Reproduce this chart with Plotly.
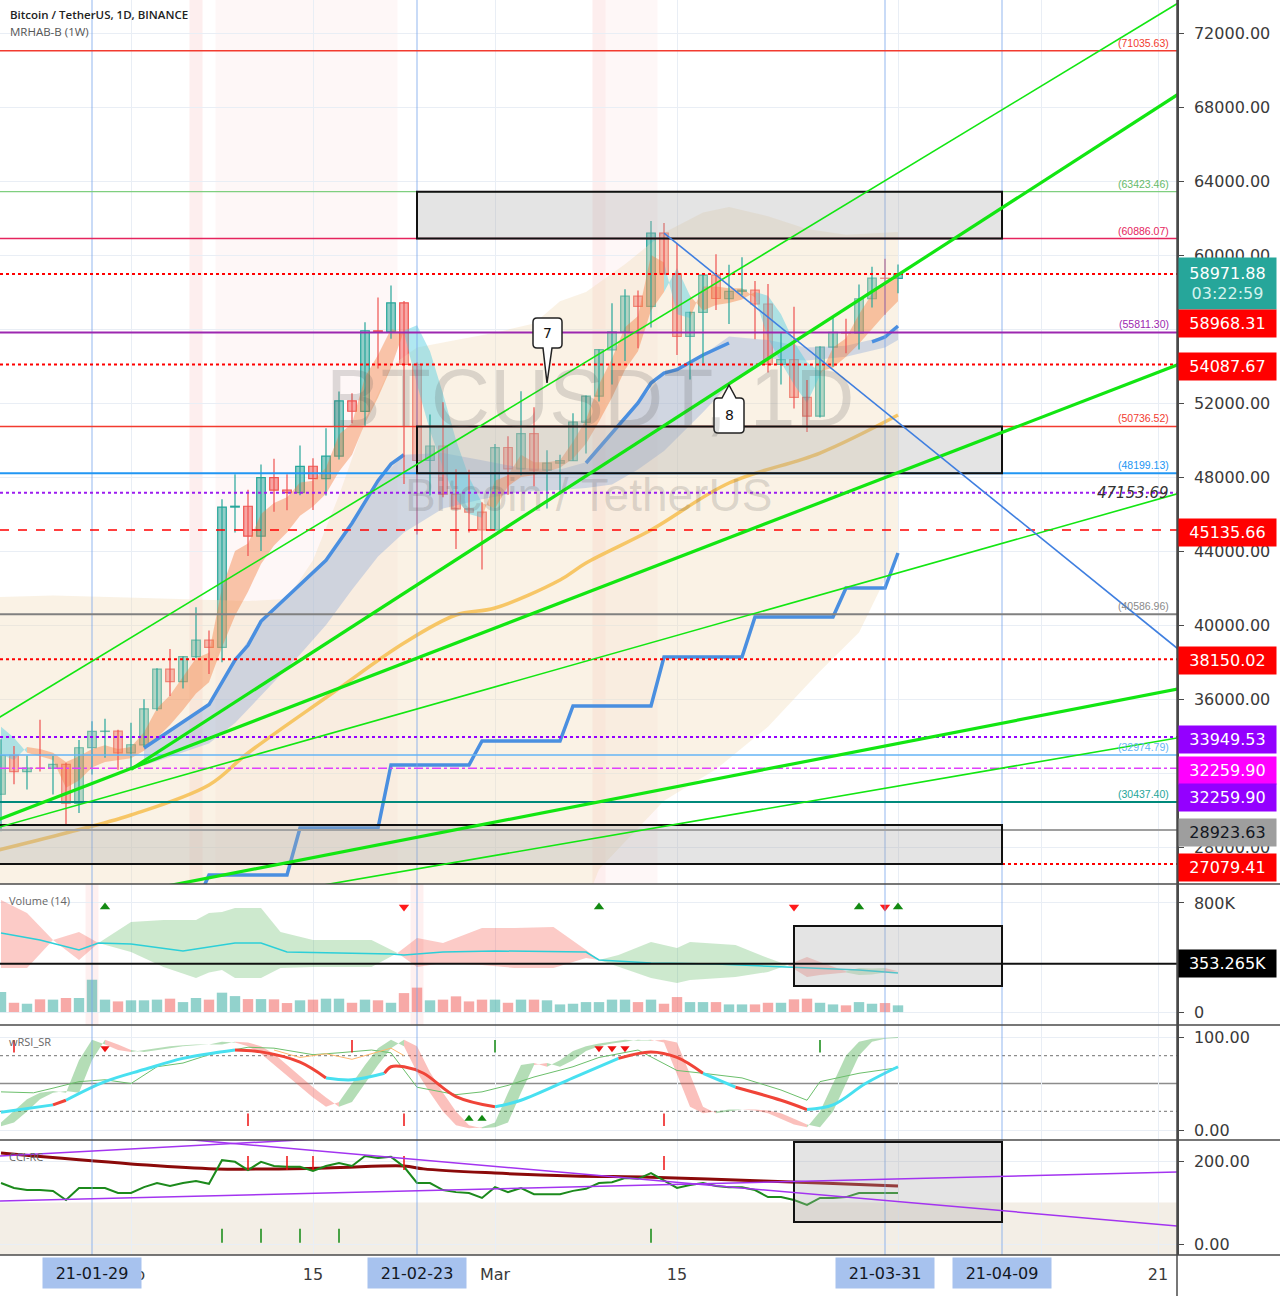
import plotly.graph_objects as go
import pandas as pd

W, H = 1280, 1296

# ================= DATA =================
dates = [d.strftime("%Y-%m-%d") for d in pd.date_range("2021-01-22", "2021-04-01", freq="D")]
opens = [30852, 32950, 32078, 32259, 32257, 32464, 30362, 33368, 34246, 34263,
         33093, 33517, 35472, 37620, 36936, 38289, 39181, 38795, 46374, 46420,
         44807, 47968, 47298, 47156, 48580, 47911, 49133, 52117, 51552, 55906,
         55841, 57412, 54087, 48891, 49676, 47073, 46276, 46103, 45134, 49595,
         48436, 50349, 48374, 48746, 48882, 50959, 52375, 54874, 55851, 57773,
         57221, 61188, 58976, 55605, 56900, 58912, 57641, 58030, 58100, 57351,
         54083, 54342, 52303, 51293, 55025, 55817, 55781, 57635, 58746, 58739]
highs = [33827, 33456, 32944, 34881, 32922, 32557, 33784, 34800, 34933, 34342,
         34717, 35984, 37662, 38708, 38310, 40955, 39700, 46794, 48142, 47310,
         48678, 48985, 48150, 49707, 49010, 50638, 52618, 52530, 56368, 57700,
         58353, 57508, 54183, 51374, 52041, 48424, 48394, 46638, 49790, 50200,
         52640, 51773, 49448, 49200, 51450, 52402, 54895, 57387, 58150, 58081,
         61844, 61724, 60633, 56938, 58974, 60040, 59468, 59880, 58589, 58430,
         55830, 57200, 53237, 55073, 56700, 56559, 58400, 59368, 59800, 59490]
lows = [28850, 31390, 31106, 32087, 30837, 29241, 29842, 31915, 32825, 32172,
        32296, 33418, 35362, 36161, 36570, 38215, 37351, 37988, 45000, 43727,
        43994, 46125, 46202, 47014, 46222, 47003, 48947, 50901, 50710, 53863,
        55478, 47622, 44892, 47003, 46900, 44106, 45000, 43000, 45115, 47047,
        48100, 47500, 46300, 47070, 48882, 49274, 52077, 53005, 54269, 54962,
        56078, 58966, 54600, 53271, 54123, 57023, 56270, 57820, 55450, 53650,
        53000, 51700, 50427, 51214, 53966, 54691, 54891, 57166, 56769, 57935]
closes = [32945, 32078, 32260, 32254, 32468, 30366, 33365, 34252, 34263, 33093,
          33526, 35466, 37619, 36937, 38290, 39187, 38796, 46375, 46420, 44808,
          47970, 47288, 47154, 48578, 47911, 49133, 52120, 51553, 55906, 55841,
          57409, 54088, 48891, 49676, 47074, 46277, 46106, 45136, 49587, 48441,
          50349, 48374, 48752, 48882, 50972, 52375, 54885, 55852, 57773, 57222,
          61188, 58968, 55605, 56901, 58913, 57648, 58030, 58102, 57352, 54083,
          54341, 52304, 51294, 55026, 55817, 55778, 57635, 58747, 58741, 58972]
volume_k = [147, 68, 61, 93, 91, 103, 103, 237, 91, 78,
            86, 86, 91, 98, 73, 103, 91, 142, 117, 95,
            95, 93, 66, 86, 91, 98, 98, 68, 91, 86,
            68, 139, 179, 86, 91, 115, 78, 91, 91, 68,
            91, 91, 86, 56, 61, 73, 73, 91, 91, 73,
            91, 61, 110, 73, 73, 73, 56, 56, 56, 68,
            68, 93, 98, 68, 56, 49, 73, 61, 66, 49]

# fast / slow ribbon (orange when fast above slow, cyan otherwise)
ribbon_fast = [33000, 32700, 33400, 33300, 33100, 32600, 32900, 33300, 33500, 33300,
               33400, 34200, 35500, 36200, 37200, 38200, 38500, 42000, 44000, 44400,
               46000, 46600, 46900, 47700, 47800, 48500, 50300, 50900, 53400, 54600,
               56000, 55800, 53000, 50500, 48500, 46800, 46000, 45800, 47800, 48100,
               49200, 48800, 48800, 48900, 49900, 51100, 53000, 54400, 56100, 56700,
               60000, 59600, 56800, 56600, 58300, 58300, 58200, 58200, 57700, 55500,
               54200, 53000, 52000, 53500, 55000, 55500, 56800, 57900, 58500, 58900]
ribbon_slow = [34500, 33900, 33100, 32900, 32700, 31200, 31600, 32300, 32600, 32700,
               32800, 33200, 33900, 34600, 35400, 36300, 36900, 38800, 40500, 41800,
               43300, 44300, 45000, 45900, 46400, 47100, 48300, 49200, 50900, 52300,
               53900, 55900, 56200, 54800, 52500, 50000, 48000, 46600, 46300, 47500,
               48000, 48100, 48300, 48500, 49000, 49800, 51000, 52300, 53800, 54800,
               57000, 58000, 59300, 57800, 57000, 57300, 57400, 57600, 58000, 57800,
               56800, 55300, 54200, 53700, 53900, 54500, 55200, 56000, 56800, 57500]

# beige MRHAB cloud
cloud_top_dates = ["2021-01-21", "2021-01-26", "2021-01-31", "2021-02-05", "2021-02-10", "2021-02-13",
                   "2021-02-15", "2021-02-17", "2021-02-19", "2021-02-21", "2021-02-23", "2021-02-26",
                   "2021-03-01", "2021-03-04", "2021-03-06", "2021-03-08", "2021-03-11", "2021-03-14",
                   "2021-03-17", "2021-03-19", "2021-03-22", "2021-03-25", "2021-03-28", "2021-04-01"]
cloud_top = [41500, 41600, 41500, 41400, 41300, 41400, 43500, 47000, 51000, 54000, 55000, 55400,
             55800, 56300, 57500, 58000, 59500, 61200, 62300, 62600, 62100, 61400, 61100, 61240]
cloud_bot_dates = ["2021-01-21", "2021-03-08", "2021-03-09", "2021-03-14", "2021-03-18",
                   "2021-03-22", "2021-03-26", "2021-03-29", "2021-04-01"]
cloud_bot = [25000, 25000, 26800, 30500, 32200, 34500, 37500, 39600, 43900]

# blue band + blue MA
band_dates = ["2021-02-02", "2021-02-04", "2021-02-07", "2021-02-09", "2021-02-11", "2021-02-14",
              "2021-02-16", "2021-02-18", "2021-02-20", "2021-02-22", "2021-02-25", "2021-02-28",
              "2021-03-03", "2021-03-06", "2021-03-08", "2021-03-10", "2021-03-12", "2021-03-14",
              "2021-03-17", "2021-03-19", "2021-03-22", "2021-03-25", "2021-03-28", "2021-03-31", "2021-04-01"]
band_upper = [33350, 34300, 35700, 38100, 40200, 42200, 43500, 45500, 47800, 49200, 49300, 48900,
              48500, 48400, 48800, 50400, 52000, 53600, 54600, 55600, 55400, 55000, 55100, 55600, 56200]
band_lower = [32400, 32900, 33600, 34700, 36200, 38400, 40000, 41900, 43700, 45000, 46300, 46800,
              47200, 47300, 47400, 47600, 48400, 49400, 51500, 53000, 54400, 54300, 54500, 55000, 55400]
blue1_dates = ["2021-02-02", "2021-02-04", "2021-02-07", "2021-02-09", "2021-02-10", "2021-02-11",
               "2021-02-14", "2021-02-16", "2021-02-18", "2021-02-20", "2021-02-21", "2021-02-22"]
blue1 = [33350, 34300, 35700, 38100, 38900, 40200, 42200, 43500, 45500, 47800, 48700, 49200]
blue2_dates = ["2021-03-08", "2021-03-10", "2021-03-12", "2021-03-13", "2021-03-14", "2021-03-15",
               "2021-03-17", "2021-03-19"]
blue2 = [48757, 50378, 52000, 53081, 53622, 53800, 54595, 55243]
blue3_dates = ["2021-03-30", "2021-03-31", "2021-04-01"]
blue3 = [55300, 55568, 56162]

# slow yellow MA
yellow_dates = ["2021-01-21", "2021-01-27", "2021-02-01", "2021-02-07", "2021-02-10", "2021-02-16 12:00",
                "2021-02-22", "2021-02-26", "2021-03-01", "2021-03-06", "2021-03-08", "2021-03-13",
                "2021-03-19", "2021-03-26", "2021-04-01"]
yellow = [27700, 28757, 29730, 31351, 33081, 36324, 39027, 40541, 40919, 42432, 43351, 45135,
          47676, 49297, 51351]

# weekly step line
step_dates = ["2021-02-06", "2021-02-07", "2021-02-13", "2021-02-14", "2021-02-20", "2021-02-21",
              "2021-02-27", "2021-02-28", "2021-03-06", "2021-03-07", "2021-03-13", "2021-03-14",
              "2021-03-20", "2021-03-21", "2021-03-27", "2021-03-28", "2021-03-31", "2021-04-01"]
step_vals = [24900, 26486, 26486, 29027, 29027, 32432, 32432, 33730, 33730, 35622, 35622, 38270,
             38270, 40432, 40432, 42000, 42000, 43892]

# horizontal price levels
level_values = [71035.63, 63423.46, 60886.07, 58971.88, 55811.30, 54087.67, 50736.52, 48199.13,
                47153.69, 45135.66, 40586.96, 38150.02, 33949.53, 32974.79, 32259.90, 30437.40,
                28923.63, 27079.41]
level_colors = ["#f23b2f", "#7fcf7f", "#e5245e", "#ff0000", "#9c27b0", "#ff0000", "#f23b2f", "#2196f3",
                "#9c1cf0", "#ff0000", "#808080", "#ff0000", "#9400ff", "#64b5f6", "#e040fb", "#00897b",
                "#9e9e9e", "#ff0000"]
level_dashes = ["solid", "solid", "solid", "dot", "solid", "dot", "solid", "solid",
                "dot", "dash", "solid", "dot", "dot", "solid", "dashdot", "solid", "solid", "dot"]
level_widths = [1.5, 1.2, 1.5, 2, 2, 2, 1.5, 2, 2, 1.3, 2, 2, 2, 1.5, 1.5, 2, 2, 2]

paren_values = [71035.63, 63423.46, 60886.07, 55811.30, 50736.52, 48199.13, 40586.96, 32974.79, 30437.40]
paren_colors = ["#f23b2f", "#66bb6a", "#e5245e", "#9c27b0", "#f23b2f", "#2196f3", "#8a8a8a", "#64b5f6", "#26a69a"]

axis_tags = ["58971.88<br><span style='color:#d4f2ee'>03:22:59</span>", "58968.31", "54087.67",
             "45135.66", "38150.02", "33949.53", "32259.90", "32259.90", "28923.63", "27079.41"]
axis_tag_bg = ["#26a69a", "#ff0000", "#ff0000", "#ff0000", "#ff0000", "#9400ff", "#ff00ff", "#9400ff",
               "#9e9e9e", "#ff0000"]
axis_tag_fg = ["white"] * 8 + ["#131722", "white"]
axis_tag_ypx = [283, 323, 366, 532, 660, 739, 770, 797, 832, 867]

# trend lines (green), descending blue line
trend_x0 = ["2021-01-21", "2021-02-01", "2021-01-21", "2021-01-21", "2021-01-21", "2021-01-21"]
trend_y0 = [34633, 32200, 29264, 28898, 24004, 22820]
trend_x1 = ["2021-04-24"] * 6
trend_y1 = [74236, 69346, 54472, 47393, 36748, 34080]
trend_w = [1.6, 3.2, 3.2, 1.6, 3.2, 1.6]
desc_x = ["2021-03-14", "2021-04-24"]
desc_y = [61188, 37875]

# zones
rect_x0 = ["2021-02-23", "2021-02-23", "2021-01-21"]
rect_x1 = ["2021-04-09", "2021-04-09", "2021-04-09"]
rect_y0 = [60886.07, 48199.13, 27079.41]
rect_y1 = [63423.46, 50736.52, 29190]

pink_strong = [("2021-02-05 12:00", "2021-02-06 12:00"), ("2021-03-08 12:00", "2021-03-09 12:00")]
pink_light = [("2021-02-07 12:00", "2021-02-21 12:00"), ("2021-03-09 12:00", "2021-03-13 12:00")]
pink_volume = [("2021-01-28 12:00", "2021-01-29 12:00"), ("2021-02-22 12:00", "2021-02-23 12:00")]
marker_dates = ["2021-01-29", "2021-02-23", "2021-03-31", "2021-04-09"]
marker_labels = ["21-01-29", "21-02-23", "21-03-31", "21-04-09"]

callout_dates = ["2021-03-05", "2021-03-19"]
callout_prices = [53081, 52973]
callout_texts = ["7", "8"]

# ---- volume pane ----
volc_dates = ["2021-01-22", "2021-01-24", "2021-01-26", "2021-01-28", "2021-01-29 12:00", "2021-02-01",
              "2021-02-03 12:00", "2021-02-06", "2021-02-07", "2021-02-08", "2021-02-09", "2021-02-11",
              "2021-02-12 12:00", "2021-02-15", "2021-02-19 12:00", "2021-02-21 12:00", "2021-02-23",
              "2021-02-25", "2021-02-28", "2021-03-02 12:00", "2021-03-05 12:00", "2021-03-08", "2021-03-09",
              "2021-03-10 12:00", "2021-03-13", "2021-03-15", "2021-03-16", "2021-03-19 12:00", "2021-03-22",
              "2021-03-23 12:00", "2021-03-25", "2021-03-26", "2021-03-28", "2021-03-29", "2021-03-30",
              "2021-03-31", "2021-04-01"]
volc_up = [822, 727, 528, 587, 506, 661, 675, 675, 727, 734, 763, 763, 587, 528, 528, 433, 543, 506, 616,
           616, 624, 455, 382, 418, 514, 470, 514, 492, 396, 345, 404, 367, 300, 323, 320, 323, 300]
volc_lo = [323, 323, 528, 382, 506, 440, 330, 250, 290, 308, 250, 250, 323, 330, 330, 433, 330, 360, 345,
           323, 323, 396, 382, 330, 250, 213, 235, 257, 294, 345, 257, 272, 290, 272, 275, 290, 300]
volc_seg = "rrrr" + "g" * 11 + "r" * 7 + "g" * 7 + "rrr" + "ggg" + "r"
vol_ma_dates = ["2021-01-22", "2021-01-25", "2021-01-28", "2021-01-29 12:00", "2021-02-01", "2021-02-05",
                "2021-02-09", "2021-02-11", "2021-02-13", "2021-02-21", "2021-02-22", "2021-02-25",
                "2021-03-01", "2021-03-08", "2021-03-09", "2021-03-13", "2021-03-18", "2021-03-24",
                "2021-03-29", "2021-04-01"]
vol_ma = [580, 528, 455, 506, 499, 448, 506, 506, 440, 426, 418, 440, 448, 440, 382, 360, 352, 330, 308, 286]
vol_level = 353.265
vol_up_dates = ["2021-01-30", "2021-03-09", "2021-03-29", "2021-04-01"]
vol_dn_dates = ["2021-02-22", "2021-03-24", "2021-03-31"]
vol_signal_level = 771
vol_rect = (["2021-03-24", "2021-04-09"], [191, 631])

# ---- wRSI pane ----
rsi_raw = [8, 20, 33, 40, 42, 40, 75, 97, 92, 86,
           84, 86, 88, 90, 91, 92, 92, 95, 94, 90,
           82, 70, 58, 46, 35, 25, 30, 50, 70, 88,
           97, 90, 62, 40, 20, 5, 2, 3, 8, 40,
           70, 72, 68, 75, 85, 90, 93, 95, 97, 96,
           97, 94, 60, 25, 18, 20, 22, 22, 21, 18,
           12, 6, 3, 20, 50, 80, 95, 98, 99, 100]
rsi_lag = [4, 8, 20, 33, 40, 42, 40, 75, 97, 92,
           86, 84, 86, 88, 90, 91, 92, 92, 95, 94,
           90, 82, 70, 58, 46, 35, 25, 30, 50, 70,
           88, 97, 90, 62, 40, 20, 5, 2, 3, 8,
           40, 70, 72, 68, 75, 85, 90, 93, 95, 97,
           96, 97, 94, 60, 25, 18, 20, 22, 22, 21,
           18, 12, 6, 3, 20, 50, 80, 95, 98, 99]
rsi_line_dates = ["2021-01-22", "2021-01-26", "2021-01-27", "2021-01-30", "2021-02-02", "2021-02-05",
                  "2021-02-09", "2021-02-11", "2021-02-14", "2021-02-16", "2021-02-18", "2021-02-20 12:00",
                  "2021-02-21", "2021-02-22", "2021-02-23 12:00", "2021-02-26", "2021-03-01", "2021-03-03",
                  "2021-03-07", "2021-03-10 12:00", "2021-03-13", "2021-03-15", "2021-03-17",
                  "2021-03-19 12:00", "2021-03-23", "2021-03-25", "2021-03-27", "2021-03-29 12:00", "2021-04-01"]
rsi_line = [19, 27, 32, 52, 65, 77, 86, 84, 73, 56, 54, 61, 68, 68, 61, 36, 25, 32, 56, 77, 84, 78, 61,
            46, 32, 22, 27, 50, 68]
rsi_line_seg = "crcccc" + "rrr" + "cc" + "rrrrr" + "ccc" + "rrr" + "c" + "rr" + "ccc"
rsi_thin_dates = ["2021-01-22", "2021-01-24 12:00", "2021-01-26", "2021-01-28", "2021-01-30", "2021-02-01",
                  "2021-02-03", "2021-02-05", "2021-02-07", "2021-02-10", "2021-02-12", "2021-02-15",
                  "2021-02-17", "2021-02-19 12:00", "2021-02-21", "2021-02-23", "2021-02-26", "2021-02-28",
                  "2021-03-02", "2021-03-04", "2021-03-07", "2021-03-09", "2021-03-12", "2021-03-15",
                  "2021-03-17", "2021-03-20", "2021-03-23", "2021-03-25", "2021-03-26", "2021-03-29", "2021-04-01"]
rsi_thin = [41, 40, 45, 52, 54, 50, 68, 72, 81, 89, 88, 81, 83, 86, 83, 46, 38, 41, 48, 57, 68, 78, 86,
            64, 61, 56, 43, 32, 52, 61, 67]
rsi_orange_dates = ["2021-02-12", "2021-02-14", "2021-02-16", "2021-02-18", "2021-02-20", "2021-02-21", "2021-02-22"]
rsi_orange = [86, 78, 82, 76, 84, 88, 80]
rsi_levels = [80, 50, 20]
rsi_dn_dates = ["2021-01-30", "2021-03-09", "2021-03-10", "2021-03-11"]
rsi_up_dates = ["2021-02-27", "2021-02-28"]
rsi_redtick_top = ["2021-01-23", "2021-02-18"]
rsi_redtick_bot = ["2021-02-10", "2021-02-22", "2021-03-14"]
rsi_greentick_top = ["2021-03-01", "2021-03-26"]

# ---- CCI pane ----
cci_ma_dates = ["2021-01-22", "2021-02-01", "2021-02-07 12:00", "2021-02-16", "2021-02-22", "2021-02-23 12:00",
                "2021-03-01", "2021-03-07", "2021-03-13", "2021-03-19 12:00", "2021-03-26", "2021-04-01"]
cci_ma = [219, 193, 181, 183, 188, 181, 171, 164, 161, 154, 147, 140]
cci = [147, 135, 130, 130, 128, 106, 135, 135, 135, 123,
       123, 137, 147, 140, 147, 152, 145, 202, 198, 178,
       198, 188, 186, 186, 176, 188, 195, 188, 212, 207,
       210, 186, 147, 147, 130, 125, 123, 111, 137, 125,
       135, 120, 120, 120, 128, 133, 147, 149, 159, 157,
       171, 154, 135, 142, 147, 140, 137, 137, 130, 113,
       113, 106, 94, 111, 111, 113, 123, 123, 123, 123]
cci_lines_x0 = ["2021-01-21", "2021-01-21", "2021-01-21"]
cci_lines_y0 = [103.0, 293.7, 210.6]
cci_lines_x1 = ["2021-04-23", "2021-04-23", "2021-02-22"]
cci_lines_y1 = [174.0, 41.9, 263.9]
cci_redticks = ["2021-02-10", "2021-02-13", "2021-02-15", "2021-02-22", "2021-03-14"]
cci_greenticks = ["2021-02-08", "2021-02-11", "2021-02-14", "2021-02-17", "2021-03-13"]
cci_zone_top = 100
cci_rect = (["2021-03-24", "2021-04-09"], [53, 246])

x_tick_vals = ["2021-02-01", "2021-02-15", "2021-03-01", "2021-03-15", "2021-04-01", "2021-04-12", "2021-04-21"]
x_tick_text = ["Feb", "15", "Mar", "15", "Apr", "12", "21"]
price_ticks = [28000, 32000, 36000, 40000, 44000, 48000, 52000, 56000, 60000, 64000, 68000, 72000]

# ================= LAYOUT CONSTANTS =================
XR = ["2021-01-21 22:09", "2021-04-22 11:04"]
XD = 1177 / W
def py(px):
    return 1 - px / H
D_MAIN = [py(884), 1.0]
D_VOL = [py(1025), py(884)]
D_RSI = [py(1140), py(1025)]
D_CCI = [py(1255), py(1140)]
FONT = "DejaVu Sans, Verdana, sans-serif"
TEAL, RED = "#26a69a", "#ef5350"

fig = go.Figure()

def groups(seg):
    out, s = [], 0
    for i in range(1, len(seg)):
        if seg[i] != seg[s]:
            out.append((seg[s], s, i)); s = i
    out.append((seg[s], s, len(seg)))
    return out

def add_bands(xs, a, b, seg, cmap, yax):
    for c, s, e in groups(seg):
        px = list(xs[s:e + 1]) + list(xs[s:e + 1])[::-1]
        pyv = list(a[s:e + 1]) + list(b[s:e + 1])[::-1]
        fig.add_trace(go.Scatter(x=px, y=pyv, fill="toself", fillcolor=cmap[c], mode="lines",
                                 line=dict(width=0), hoverinfo="skip", showlegend=False, yaxis=yax))

def sign_seg(a, b, pos="g", neg="r"):
    return "".join(pos if a[k] + a[k + 1] >= b[k] + b[k + 1] else neg for k in range(len(a) - 1))

# ---------- main pane ----------
fig.add_trace(go.Scatter(x=cloud_top_dates + cloud_bot_dates[::-1], y=cloud_top + cloud_bot[::-1],
                         fill="toself", fillcolor="rgba(240,218,182,0.36)", mode="lines", line=dict(width=0),
                         hoverinfo="skip", showlegend=False))
fig.add_trace(go.Scatter(x=band_dates + band_dates[::-1], y=band_upper + band_lower[::-1],
                         fill="toself", fillcolor="rgba(100,145,215,0.28)", mode="lines", line=dict(width=0),
                         hoverinfo="skip", showlegend=False))
add_bands(dates, ribbon_fast, ribbon_slow, sign_seg(ribbon_fast, ribbon_slow, "o", "c"),
          {"o": "rgba(242,125,60,0.42)", "c": "rgba(80,205,225,0.45)"}, "y")
fig.add_trace(go.Scatter(x=yellow_dates, y=yellow, mode="lines", line=dict(color="rgba(246,190,80,0.85)", width=3.5, shape="spline"),
                         hoverinfo="skip", showlegend=False))
for dx, dv in [(blue1_dates, blue1), (blue2_dates, blue2), (blue3_dates, blue3)]:
    fig.add_trace(go.Scatter(x=dx, y=dv, mode="lines", line=dict(color="#4a8fe0", width=3.5),
                             hoverinfo="skip", showlegend=False))
fig.add_trace(go.Scatter(x=step_dates, y=step_vals, mode="lines", line=dict(color="#4a8fe0", width=3.5),
                         hoverinfo="skip", showlegend=False))

# candles
for up, col, fillc in [(True, TEAL, "rgba(38,166,154,0.5)"), (False, RED, "rgba(239,83,80,0.5)")]:
    idx = [i for i in range(len(dates)) if (closes[i] >= opens[i]) == up]
    wx, wy = [], []
    for i in idx:
        wx += [dates[i], dates[i], None]
        wy += [lows[i], highs[i], None]
    fig.add_trace(go.Scatter(x=wx, y=wy, mode="lines", line=dict(color=col, width=1.2),
                             hoverinfo="skip", showlegend=False))
    fig.add_trace(go.Bar(x=[dates[i] for i in idx], y=[closes[i] - opens[i] for i in idx],
                         base=[opens[i] for i in idx], width=0.66 * 86400000,
                         marker=dict(color=fillc, line=dict(color=col, width=1.2)),
                         hoverinfo="skip", showlegend=False))

# ---------- volume pane ----------
add_bands(volc_dates, volc_up, volc_lo, volc_seg,
          {"g": "rgba(76,175,80,0.28)", "r": "rgba(244,67,54,0.28)"}, "y2")
fig.add_trace(go.Bar(x=dates, y=volume_k, width=0.8 * 86400000, yaxis="y2",
                     marker=dict(color=["rgba(38,166,154,0.5)" if closes[i] >= opens[i] else "rgba(239,83,80,0.5)"
                                        for i in range(len(dates))], line=dict(width=0)),
                     hoverinfo="skip", showlegend=False))
fig.add_trace(go.Scatter(x=vol_ma_dates, y=vol_ma, mode="lines", yaxis="y2",
                         line=dict(color="#2ccfd8", width=1.5), hoverinfo="skip", showlegend=False))
fig.add_trace(go.Scatter(x=vol_up_dates, y=[vol_signal_level] * len(vol_up_dates), mode="markers", yaxis="y2",
                         marker=dict(symbol="triangle-up", size=9, color="#138a13"), hoverinfo="skip", showlegend=False))
fig.add_trace(go.Scatter(x=vol_dn_dates, y=[vol_signal_level] * len(vol_dn_dates), mode="markers", yaxis="y2",
                         marker=dict(symbol="triangle-down", size=9, color="#ff1a1a"), hoverinfo="skip", showlegend=False))

# ---------- wRSI pane ----------
add_bands(dates, rsi_raw, rsi_lag, sign_seg(rsi_raw, rsi_lag),
          {"g": "rgba(76,175,80,0.42)", "r": "rgba(244,90,80,0.38)"}, "y3")
fig.add_trace(go.Scatter(x=rsi_thin_dates, y=rsi_thin, mode="lines", yaxis="y3",
                         line=dict(color="#6cbf6c", width=1), hoverinfo="skip", showlegend=False))
fig.add_trace(go.Scatter(x=rsi_orange_dates, y=rsi_orange, mode="lines", yaxis="y3",
                         line=dict(color="#ffb870", width=1), hoverinfo="skip", showlegend=False))
for c, s, e in groups(rsi_line_seg):
    fig.add_trace(go.Scatter(x=rsi_line_dates[s:e + 1], y=rsi_line[s:e + 1], mode="lines", yaxis="y3",
                             line=dict(color="#48e0f0" if c == "c" else "#f04438", width=3, shape="spline"),
                             hoverinfo="skip", showlegend=False))
fig.add_trace(go.Scatter(x=rsi_dn_dates, y=[88] * len(rsi_dn_dates), mode="markers", yaxis="y3",
                         marker=dict(symbol="triangle-down", size=8, color="#ee1111"), hoverinfo="skip", showlegend=False))
fig.add_trace(go.Scatter(x=rsi_up_dates, y=[12] * len(rsi_up_dates), mode="markers", yaxis="y3",
                         marker=dict(symbol="triangle-up", size=8, color="#118811"), hoverinfo="skip", showlegend=False))
for xs, yv, col in [(rsi_redtick_top, 90, "#ee1111"), (rsi_redtick_bot, 11, "#ee1111"), (rsi_greentick_top, 90, "#118811")]:
    fig.add_trace(go.Scatter(x=xs, y=[yv] * len(xs), mode="markers", yaxis="y3",
                             marker=dict(symbol="line-ns", size=9, line=dict(color=col, width=1.5)),
                             hoverinfo="skip", showlegend=False))

# ---------- CCI pane ----------
fig.add_trace(go.Scatter(x=cci_ma_dates, y=cci_ma, mode="lines", yaxis="y4",
                         line=dict(color="#8b0a0a", width=3, shape="spline"), hoverinfo="skip", showlegend=False))
fig.add_trace(go.Scatter(x=dates, y=cci, mode="lines", yaxis="y4",
                         line=dict(color="#1c8a1c", width=2), hoverinfo="skip", showlegend=False))
fig.add_trace(go.Scatter(x=cci_redticks, y=[195] * len(cci_redticks), mode="markers", yaxis="y4",
                         marker=dict(symbol="line-ns", size=10, line=dict(color="#ee1111", width=1.5)),
                         hoverinfo="skip", showlegend=False))
fig.add_trace(go.Scatter(x=cci_greenticks, y=[20] * len(cci_greenticks), mode="markers", yaxis="y4",
                         marker=dict(symbol="line-ns", size=10, line=dict(color="#118811", width=1.5)),
                         hoverinfo="skip", showlegend=False))

# ================= SHAPES =================
shapes = []
for a, b in pink_strong:
    shapes.append(dict(type="rect", xref="x", yref="y domain", x0=a, x1=b, y0=0, y1=1,
                       fillcolor="rgba(240,90,90,0.10)", line=dict(width=0), layer="below"))
for a, b in pink_light:
    shapes.append(dict(type="rect", xref="x", yref="y domain", x0=a, x1=b, y0=0, y1=1,
                       fillcolor="rgba(240,90,90,0.05)", line=dict(width=0), layer="below"))
for a, b in pink_volume:
    shapes.append(dict(type="rect", xref="x", yref="y2 domain", x0=a, x1=b, y0=0, y1=1,
                       fillcolor="rgba(240,90,90,0.09)", line=dict(width=0), layer="below"))
for d in marker_dates:
    shapes.append(dict(type="line", xref="x", yref="paper", x0=d, x1=d, y0=D_CCI[0], y1=1,
                       line=dict(color="rgba(120,165,235,0.8)", width=1), layer="above"))
# cci zone
shapes.append(dict(type="rect", xref="x domain", yref="y4", x0=0, x1=1, y0=-30, y1=cci_zone_top,
                   fillcolor="rgba(232,222,205,0.5)", line=dict(width=0), layer="below"))
# rsi levels
for lv, ds in zip(rsi_levels, ["dot", "solid", "dot"]):
    shapes.append(dict(type="line", xref="x domain", yref="y3", x0=0, x1=1, y0=lv, y1=lv,
                       line=dict(color="#8c8c8c", width=1.3, dash=ds), layer="below"))
# price levels
for v, c, ds, w in zip(level_values, level_colors, level_dashes, level_widths):
    shapes.append(dict(type="line", xref="x domain", yref="y", x0=0, x1=1, y0=v, y1=v,
                       line=dict(color=c, width=w, dash=ds), layer="above"))
# zones
for a, b, c, d in zip(rect_x0, rect_x1, rect_y0, rect_y1):
    shapes.append(dict(type="rect", xref="x", yref="y", x0=a, x1=b, y0=c, y1=d,
                       fillcolor="rgba(170,170,170,0.32)", line=dict(color="#111", width=2), layer="above"))
shapes.append(dict(type="rect", xref="x", yref="y2", x0=vol_rect[0][0], x1=vol_rect[0][1],
                   y0=vol_rect[1][0], y1=vol_rect[1][1], fillcolor="rgba(170,170,170,0.32)",
                   line=dict(color="#111", width=2), layer="above"))
shapes.append(dict(type="rect", xref="x", yref="y4", x0=cci_rect[0][0], x1=cci_rect[0][1],
                   y0=cci_rect[1][0], y1=cci_rect[1][1], fillcolor="rgba(170,170,170,0.32)",
                   line=dict(color="#111", width=2), layer="above"))
shapes.append(dict(type="line", xref="x domain", yref="y2", x0=0, x1=1, y0=vol_level, y1=vol_level,
                   line=dict(color="#111", width=2), layer="above"))
# trend lines
for a, b, c, d, w in zip(trend_x0, trend_y0, trend_x1, trend_y1, trend_w):
    shapes.append(dict(type="line", xref="x", yref="y", x0=a, y0=b, x1=c, y1=d,
                       line=dict(color="#12e612", width=w), layer="above"))
shapes.append(dict(type="line", xref="x", yref="y", x0=desc_x[0], y0=desc_y[0], x1=desc_x[1], y1=desc_y[1],
                   line=dict(color="#3f7fe0", width=1.6), layer="above"))
for a, b, c, d in zip(cci_lines_x0, cci_lines_y0, cci_lines_x1, cci_lines_y1):
    shapes.append(dict(type="line", xref="x", yref="y4", x0=a, y0=b, x1=c, y1=d,
                       line=dict(color="#a334f0", width=1.5), layer="above"))
# callouts (pixel-sized balloons anchored on data)
balloon_paths = [
    "M -14,39 Q -14,35 -10,35 L -4,35 L 0,0 L 5,35 L 11,35 Q 15,35 15,39 L 15,61 Q 15,65 11,65 L -10,65 Q -14,65 -14,61 Z",
    "M -15,-17 Q -15,-13 -11,-13 L -7,-13 L 0,0 L 7,-13 L 11,-13 Q 15,-13 15,-17 L 15,-44 Q 15,-48 11,-48 L -11,-48 Q -15,-48 -15,-44 Z",
]
for d, p, path in zip(callout_dates, callout_prices, balloon_paths):
    shapes.append(dict(type="path", xref="x", yref="y", xsizemode="pixel", ysizemode="pixel",
                       xanchor=d, yanchor=p, path=path, fillcolor="white",
                       line=dict(color="#222", width=1.5), layer="above"))
# pane separators & axis line
for pxv in [884, 1025, 1140, 1255]:
    shapes.append(dict(type="line", xref="paper", yref="paper", x0=0, x1=1, y0=py(pxv), y1=py(pxv),
                       line=dict(color="#4a4a4a", width=1.5), layer="above"))
shapes.append(dict(type="line", xref="paper", yref="paper", x0=XD, x1=XD, y0=0, y1=1,
                   line=dict(color="#4a4a4a", width=1.5), layer="above"))

# ================= ANNOTATIONS =================
ann = []
ann.append(dict(xref="paper", yref="paper", x=8 / W, y=py(15), xanchor="left", yanchor="middle", showarrow=False,
                text="Bitcoin / TetherUS, 1D, BINANCE", font=dict(family="Open Sans", size=11.5, color="#222", weight=600)))
ann.append(dict(xref="paper", yref="paper", x=8 / W, y=py(31), xanchor="left", yanchor="middle", showarrow=False,
                text="MRHAB-B (1W)", font=dict(family="Open Sans", size=11.5, color="#555")))
ann.append(dict(xref="paper", yref="paper", x=590 / W, y=py(398), xanchor="center", yanchor="middle", showarrow=False,
                text="BTCUSDT, 1D", font=dict(family="Liberation Sans, Arial", size=82,
                                              color="rgba(90,90,90,0.2)")))
ann.append(dict(xref="paper", yref="paper", x=588 / W, y=py(495), xanchor="center", yanchor="middle", showarrow=False,
                text="Bitcoin / TetherUS", font=dict(family="Liberation Sans, Arial", size=46,
                                                     color="rgba(90,90,90,0.2)")))
for v, c in zip(paren_values, paren_colors):
    ann.append(dict(xref="paper", yref="y", x=1171 / W, y=v, xanchor="right", yanchor="bottom", showarrow=False,
                    text="(%.2f)" % v, font=dict(family="Liberation Sans, Arial", size=10.5, color=c)))
ann.append(dict(xref="paper", yref="y", x=1171 / W, y=level_values[8], xanchor="right", yanchor="middle",
                showarrow=False, text="<i>%.2f</i>" % level_values[8],
                font=dict(family=FONT, size=15, color="#333")))
for t, bg, fg, ypx in zip(axis_tags, axis_tag_bg, axis_tag_fg, axis_tag_ypx):
    two = "<br>" in t
    ann.append(dict(xref="paper", yref="paper", x=1178 / W, y=py(ypx), xanchor="left", yanchor="middle",
                    showarrow=False, text=t, bgcolor=bg, borderpad=3, width=91, height=45 if two else 21,
                    align="center", font=dict(family=FONT, size=16, color=fg)))
ann.append(dict(xref="paper", yref="y2", x=1178 / W, y=vol_level, xanchor="left", yanchor="middle",
                showarrow=False, text="%.3fK" % vol_level, bgcolor="#000", borderpad=3, width=91, height=21,
                font=dict(family=FONT, size=16, color="white")))
for d, lab in zip(marker_dates, marker_labels):
    ann.append(dict(xref="x", yref="paper", x=d, y=py(1273), xanchor="center", yanchor="middle", showarrow=False,
                    text=lab, bgcolor="#a7c2ee", borderpad=3, width=92, height=24,
                    font=dict(family=FONT, size=16, color="#131722")))
for d, p, t, sh in zip(callout_dates, callout_prices, callout_texts, [50, -30]):
    ann.append(dict(xref="x", yref="y", x=d, y=p, yshift=sh, showarrow=False, text=t,
                    font=dict(family=FONT, size=14, color="#111")))
for txt, ypx in [("Volume (14)", 900), ("wRSI_SR", 1041), ("CCI-RC", 1156)]:
    ann.append(dict(xref="paper", yref="paper", x=7 / W, y=py(ypx), xanchor="left", yanchor="middle",
                    showarrow=False, text=txt, font=dict(family="Open Sans", size=11, color="#666")))

# ================= AXES =================
grid = "#e9eef5"
yax_common = dict(side="right", anchor="x", showline=True, linecolor="#4a4a4a", linewidth=1.5,
                  ticks="outside", ticklen=5, tickcolor="#4a4a4a", ticklabelstandoff=7,
                  tickfont=dict(family=FONT, size=16, color="#3a3a3a"), showgrid=True, gridcolor=grid,
                  zeroline=False, fixedrange=True)
fig.update_layout(
    width=W, height=H, margin=dict(l=0, r=0, t=0, b=0), autosize=False,
    paper_bgcolor="white", plot_bgcolor="white", showlegend=False, hovermode=False, barmode="overlay",
    xaxis=dict(type="date", range=XR, domain=[0, XD], anchor="y4", tickvals=x_tick_vals, ticktext=x_tick_text,
               showgrid=True, gridcolor=grid, zeroline=False, showline=False, ticks="", ticklabelstandoff=8,
               tickfont=dict(family=FONT, size=16, color="#3a3a3a"), fixedrange=True),
    yaxis=dict(domain=D_MAIN, range=[26000, 73784], tickvals=price_ticks, tickformat=".2f", **yax_common),
    yaxis2=dict(domain=D_VOL, range=[-95, 939], tickvals=[0, 800], ticktext=["0", "800K"], **yax_common),
    yaxis3=dict(domain=D_RSI, range=[-10.75, 112.9], tickvals=[0, 100], ticktext=["0.00", "100.00"], **yax_common),
    yaxis4=dict(domain=D_CCI, range=[-26.5, 250.6], tickvals=[0, 200], ticktext=["0.00", "200.00"], **yax_common),
    shapes=shapes, annotations=ann,
)

fig.write_html("out.html", config={"displayModeBar": False},
               post_script="document.body.style.margin='0px';document.body.style.padding='0px';"
                           "document.body.style.overflow='hidden';")
